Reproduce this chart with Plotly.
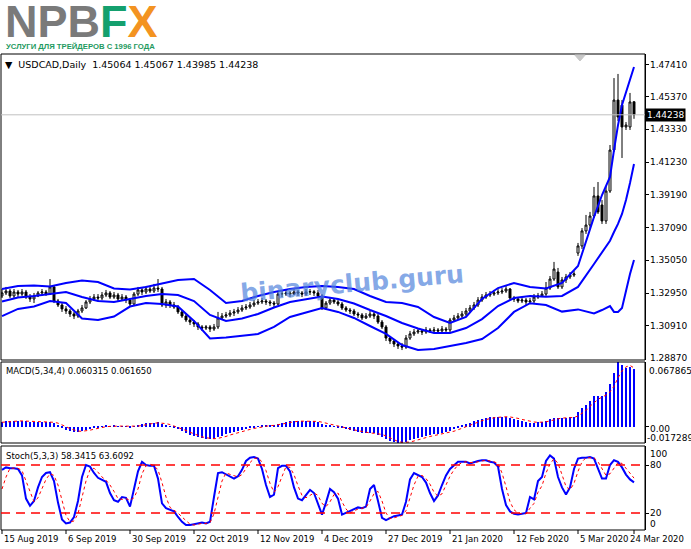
import plotly.graph_objects as go

# ---------------- data ----------------
bars = list(range(159))

opens = [1.3279,1.3298,1.3310,1.3279,1.3304,1.3291,1.3304,1.3272,1.3260,1.3279,
1.3298,1.3304,1.3291,1.3336,1.3247,1.3222,1.3197,1.3184,1.3165,1.3152,
1.3184,1.3203,1.3241,1.3260,1.3272,1.3266,1.3285,1.3298,1.3272,1.3285,
1.3260,1.3272,1.3253,1.3228,1.3291,1.3317,1.3304,1.3323,1.3310,1.3329,
1.3323,1.3222,1.3241,1.3222,1.3209,1.3178,1.3152,1.3127,1.3114,1.3102,
1.3083,1.3076,1.3083,1.3070,1.3083,1.3140,1.3152,1.3159,1.3171,1.3178,
1.3190,1.3203,1.3209,1.3222,1.3234,1.3241,1.3247,1.3241,1.3234,1.3228,
1.3291,1.3291,1.3298,1.3291,1.3304,1.3298,1.3291,1.3304,1.3306,1.3298,
1.3279,1.3203,1.3234,1.3253,1.3241,1.3228,1.3203,1.3190,1.3184,1.3165,
1.3159,1.3140,1.3152,1.3165,1.3152,1.3114,1.3083,1.3013,1.2994,1.2975,
1.2963,1.2956,1.3013,1.3039,1.3051,1.3058,1.3051,1.3064,1.3058,1.3064,
1.3058,1.3070,1.3064,1.3127,1.3140,1.3152,1.3165,1.3184,1.3203,1.3222,
1.3253,1.3272,1.3285,1.3291,1.3298,1.3304,1.3310,1.3323,1.3266,1.3260,
1.3247,1.3253,1.3241,1.3247,1.3272,1.3279,1.3291,1.3329,1.3386,1.3430,
1.3336,1.3380,1.3399,1.3411,1.3550,1.3595,1.3690,1.3727,1.3784,1.3911,
1.3854,1.3753,1.3942,1.4201,1.4517,1.4485,1.4347,1.4347,1.45064]

highs = [1.3323,1.3336,1.3323,1.3323,1.3317,1.3323,1.3317,1.3291,1.3298,1.3310,
1.3323,1.3317,1.3386,1.3348,1.3260,1.3234,1.3215,1.3197,1.3178,1.3197,
1.3222,1.3253,1.3279,1.3291,1.3291,1.3304,1.3317,1.3310,1.3304,1.3298,
1.3291,1.3285,1.3266,1.3304,1.3336,1.3329,1.3342,1.3336,1.3355,1.3386,
1.3336,1.3260,1.3253,1.3241,1.3222,1.3190,1.3165,1.3140,1.3127,1.3114,
1.3095,1.3095,1.3095,1.3102,1.3178,1.3171,1.3178,1.3190,1.3197,1.3209,
1.3222,1.3228,1.3241,1.3253,1.3260,1.3266,1.3260,1.3253,1.3247,1.3310,
1.3310,1.3317,1.3310,1.3323,1.3317,1.3310,1.3323,1.3323,1.3317,1.3317,
1.3291,1.3247,1.3266,1.3266,1.3253,1.3241,1.3215,1.3203,1.3197,1.3178,
1.3171,1.3171,1.3184,1.3178,1.3165,1.3127,1.3095,1.3026,1.3007,1.2988,
1.2982,1.3032,1.3058,1.3070,1.3076,1.3070,1.3083,1.3076,1.3083,1.3076,
1.3089,1.3083,1.3140,1.3159,1.3171,1.3184,1.3203,1.3222,1.3241,1.3272,
1.3291,1.3304,1.3310,1.3317,1.3323,1.3329,1.3342,1.3329,1.3279,1.3272,
1.3272,1.3266,1.3266,1.3291,1.3298,1.3310,1.3367,1.3405,1.3494,1.3456,
1.3399,1.3418,1.3430,1.3437,1.3614,1.3708,1.3791,1.3810,1.3968,1.3999,
1.3885,1.3974,1.4233,1.4656,1.4682,1.4517,1.4378,1.4562,1.45067]

lows = [1.3266,1.3285,1.3266,1.3266,1.3272,1.3279,1.3260,1.3241,1.3234,1.3272,
1.3279,1.3279,1.3285,1.3234,1.3209,1.3178,1.3165,1.3146,1.3133,1.3140,
1.3171,1.3197,1.3228,1.3247,1.3247,1.3253,1.3272,1.3260,1.3260,1.3247,
1.3247,1.3234,1.3209,1.3222,1.3279,1.3285,1.3291,1.3298,1.3298,1.3304,
1.3209,1.3203,1.3203,1.3197,1.3165,1.3140,1.3114,1.3095,1.3083,1.3064,
1.3058,1.3064,1.3051,1.3058,1.3070,1.3127,1.3140,1.3146,1.3152,1.3165,
1.3178,1.3190,1.3197,1.3209,1.3222,1.3228,1.3222,1.3215,1.3209,1.3222,
1.3272,1.3279,1.3272,1.3285,1.3279,1.3272,1.3279,1.3285,1.3279,1.3266,
1.3190,1.3190,1.3222,1.3228,1.3215,1.3190,1.3178,1.3165,1.3152,1.3140,
1.3127,1.3133,1.3140,1.3133,1.3102,1.3070,1.2994,1.2975,1.2956,1.2944,
1.2937,1.2944,1.3001,1.3026,1.3039,1.3032,1.3039,1.3045,1.3045,1.3039,
1.3045,1.3051,1.3051,1.3114,1.3127,1.3140,1.3152,1.3171,1.3190,1.3209,
1.3241,1.3260,1.3272,1.3279,1.3285,1.3291,1.3298,1.3253,1.3241,1.3234,
1.3234,1.3222,1.3228,1.3234,1.3260,1.3272,1.3279,1.3317,1.3374,1.3323,
1.3323,1.3361,1.3386,1.3399,1.3532,1.3576,1.3671,1.3702,1.3772,1.3797,
1.3734,1.3734,1.3930,1.4189,1.4385,1.4151,1.4328,1.4328,1.43985]

closes = [1.3298,1.3310,1.3279,1.3304,1.3291,1.3304,1.3272,1.3260,1.3279,1.3298,
1.3304,1.3291,1.3336,1.3247,1.3222,1.3197,1.3184,1.3165,1.3152,1.3184,
1.3203,1.3241,1.3260,1.3272,1.3266,1.3285,1.3298,1.3272,1.3285,1.3260,
1.3272,1.3253,1.3228,1.3291,1.3317,1.3304,1.3323,1.3310,1.3329,1.3323,
1.3222,1.3241,1.3222,1.3209,1.3178,1.3152,1.3127,1.3114,1.3102,1.3083,
1.3076,1.3083,1.3070,1.3083,1.3140,1.3152,1.3159,1.3171,1.3178,1.3190,
1.3203,1.3209,1.3222,1.3234,1.3241,1.3247,1.3241,1.3234,1.3228,1.3291,
1.3293,1.3298,1.3291,1.3304,1.3298,1.3291,1.3304,1.3306,1.3298,1.3279,
1.3203,1.3234,1.3253,1.3241,1.3228,1.3203,1.3190,1.3184,1.3165,1.3159,
1.3140,1.3152,1.3165,1.3152,1.3114,1.3083,1.3013,1.2994,1.2975,1.2963,
1.2956,1.3013,1.3039,1.3051,1.3058,1.3051,1.3064,1.3058,1.3064,1.3058,
1.3070,1.3064,1.3127,1.3140,1.3152,1.3165,1.3184,1.3203,1.3222,1.3253,
1.3272,1.3285,1.3291,1.3298,1.3304,1.3310,1.3323,1.3266,1.3260,1.3247,
1.3253,1.3241,1.3247,1.3272,1.3279,1.3291,1.3329,1.3386,1.3449,1.3336,
1.3380,1.3399,1.3411,1.3418,1.3595,1.3690,1.3727,1.3784,1.3911,1.3810,
1.3753,1.3942,1.4201,1.4517,1.4410,1.4347,1.4359,1.4505,1.44238]

# Bollinger bands read at sampled bars
band_bars = [0,4,8,12,16,20,24,28,32,36,40,44,48,52,56,60,64,68,72,76,80,84,88,92,96,100,
             104,108,112,116,120,124,128,132,136,140,144,148,150,152,153,154,155,156,157,158]
bb_upper = [1.3323,1.3342,1.3345,1.3339,1.3361,1.3377,1.3367,1.3326,1.3320,1.3336,1.3358,1.3380,
            1.3386,1.3317,1.3234,1.3247,1.3279,1.3304,1.3323,1.3336,1.3342,1.3336,1.3323,1.3279,
            1.3241,1.3234,1.3209,1.3146,1.3108,1.3146,1.3260,1.3329,1.3361,1.3336,1.3326,1.3361,
            1.3468,1.3778,1.3917,1.4031,1.4201,1.4359,1.4486,1.4568,1.4644,1.4726]
bb_mid = [1.3244,1.3269,1.3279,1.3291,1.3304,1.3272,1.3247,1.3241,1.3260,1.3279,1.3291,1.3285,
          1.3247,1.3159,1.3121,1.3137,1.3165,1.3206,1.3241,1.3260,1.3276,1.3260,1.3231,1.3190,
          1.3152,1.3108,1.3073,1.3045,1.3045,1.3076,1.3133,1.3215,1.3266,1.3279,1.3274,1.3279,
          1.3336,1.3481,1.3554,1.3628,1.3683,1.3734,1.3797,1.3885,1.3993,1.4113]
bb_lower = [1.3152,1.3197,1.3212,1.3247,1.3234,1.3137,1.3127,1.3149,1.3212,1.3234,1.3228,1.3212,
            1.3121,1.3010,1.3016,1.3026,1.3039,1.3083,1.3146,1.3174,1.3203,1.3178,1.3140,1.3089,
            1.3039,1.2969,1.2937,1.2944,1.2963,1.2982,1.3007,1.3076,1.3178,1.3233,1.3222,1.3180,
            1.3194,1.3168,1.3190,1.3215,1.3178,1.3178,1.3203,1.3317,1.3418,1.3506]

macd_hist = [0.0050,0.0055,0.0058,0.0060,0.0060,0.0058,0.0055,0.0050,0.0045,0.0043,
0.0045,0.0048,0.0052,0.0035,0.0010,-0.0015,-0.0035,-0.0048,-0.0055,-0.0052,
-0.0045,-0.0032,-0.0022,-0.0012,-0.0005,0.0002,0.0006,0.0005,0.0006,0.0004,
0.0004,0.0003,-0.0005,0.0005,0.0018,0.0025,0.0033,0.0038,0.0042,0.0043,
0.0025,0.0012,0.0002,-0.0012,-0.0030,-0.0050,-0.0070,-0.0088,-0.0102,-0.0115,
-0.0125,-0.0128,-0.0130,-0.0127,-0.0110,-0.0095,-0.0082,-0.0070,-0.0058,-0.0045,
-0.0035,-0.0025,-0.0015,-0.0005,0.0003,0.0010,0.0012,0.0013,0.0012,0.0030,
0.0042,0.0050,0.0055,0.0058,0.0058,0.0057,0.0056,0.0055,0.0054,0.0050,
0.0025,0.0012,0.0008,0.0002,-0.0006,-0.0018,-0.0030,-0.0040,-0.0050,-0.0058,
-0.0068,-0.0072,-0.0070,-0.0072,-0.0085,-0.0105,-0.0135,-0.0155,-0.0165,-0.0172,
-0.01728,-0.0160,-0.0145,-0.0130,-0.0118,-0.0108,-0.0098,-0.0090,-0.0082,-0.0076,
-0.0068,-0.0060,-0.0042,-0.0025,-0.0008,0.0008,0.0025,0.0040,0.0055,0.0070,
0.0082,0.0090,0.0096,0.0100,0.0102,0.0104,0.0105,0.0092,0.0080,0.0068,
0.0058,0.0048,0.0042,0.0042,0.0045,0.0052,0.0062,0.0078,0.0095,0.0090,
0.0092,0.0095,0.0098,0.0100,0.0150,0.0200,0.0230,0.0270,0.0320,0.0325,
0.0320,0.0360,0.0450,0.0560,0.06786,0.0650,0.0618,0.0625,0.060315]

macd_signal = [0.0045,0.0050,0.0054,0.0056,0.0058,0.0059,0.0058,0.0056,0.0052,0.0048,
0.0046,0.0045,0.0047,0.0045,0.0036,0.0020,-0.0001,-0.0022,-0.0038,-0.0048,
-0.0050,-0.0046,-0.0038,-0.0028,-0.0018,-0.0009,-0.0002,0.0002,0.0005,0.0005,
0.0005,0.0004,0.0002,0.0002,0.0005,0.0011,0.0020,0.0029,0.0035,0.0039,
0.0037,0.0031,0.0021,0.0007,-0.0007,-0.0023,-0.0041,-0.0060,-0.0078,-0.0094,
-0.0108,-0.0118,-0.0125,-0.0128,-0.0124,-0.0116,-0.0104,-0.0089,-0.0076,-0.0064,
-0.0052,-0.0041,-0.0030,-0.0020,-0.0011,-0.0002,0.0005,0.0010,0.0012,0.0017,
0.0024,0.0034,0.0044,0.0051,0.0055,0.0057,0.0057,0.0057,0.0056,0.0054,
0.0046,0.0035,0.0024,0.0012,0.0004,-0.0004,-0.0013,-0.0024,-0.0035,-0.0045,
-0.0054,-0.0062,-0.0067,-0.0071,-0.0075,-0.0083,-0.0099,-0.0120,-0.0140,-0.0157,
-0.0166,-0.0168,-0.0163,-0.0152,-0.0138,-0.0125,-0.0114,-0.0104,-0.0095,-0.0087,
-0.0079,-0.0072,-0.0062,-0.0049,-0.0034,-0.0017,0.0000,0.0016,0.0032,0.0048,
0.0062,0.0074,0.0085,0.0092,0.0097,0.0101,0.0103,0.0101,0.0095,0.0086,
0.0075,0.0064,0.0054,0.0048,0.0044,0.0045,0.0050,0.0059,0.0072,0.0081,
0.0089,0.0093,0.0094,0.0096,0.0111,0.0137,0.0170,0.0213,0.0255,0.0286,
0.0309,0.0331,0.0364,0.0423,0.0512,0.0585,0.0627,0.0643,0.06165]

stoch_k = [74,77,76,76,75,67,38,29,35,52,
65,70,71,60,33,12,7,8,15,35,
65,80,78,70,64,61,59,45,36,34,
40,39,28,50,72,84,80,79,79,63,
32,26,24,22,15,9,5,5,6,7,
8,7,9,40,70,71,68,66,63,66,
74,85,89,90,88,75,55,40,43,76,
79,79,72,52,38,36,42,49,45,32,
18,33,50,46,38,18,20,23,25,27,
26,28,50,55,35,14,11,14,16,17,
18,34,62,70,67,65,58,45,35,42,
55,67,75,80,84,84,84,82,84,85,
86,86,84,83,78,50,30,22,19,18,
19,20,40,37,60,65,85,92,88,65,
52,43,52,75,88,89,89,90,88,75,
63,63,80,86,84,77,68,62,58.34]

stoch_d = [50,65,76,76,76,73,60,45,34,39,
51,62,69,67,55,35,17,9,10,19,
38,60,74,76,71,65,61,55,47,38,
37,38,36,39,50,69,79,81,79,74,
58,40,27,24,20,15,10,6,5,6,
7,7,8,19,40,60,70,68,66,65,
68,75,83,88,89,84,73,57,46,53,
66,78,77,68,54,42,39,42,45,42,
32,28,34,43,45,34,25,20,23,25,
26,27,35,44,47,35,20,13,14,16,
17,23,38,55,66,67,63,56,46,41,
44,55,66,74,80,83,84,83,83,84,
85,86,85,84,82,70,53,34,24,20,
19,19,26,32,46,54,70,81,88,82,
68,53,49,57,72,84,89,89,89,84,
75,67,69,76,83,82,76,69,63.61]

date_bars = [0,16,32,48,64,80,96,112,128,144,158]
date_labels = ["15 Aug 2019","6 Sep 2019","30 Sep 2019","22 Oct 2019","12 Nov 2019","4 Dec 2019",
               "27 Dec 2019","21 Jan 2020","12 Feb 2020","5 Mar 2020","24 Mar 2020"]
price_ticks = [1.28870,1.30910,1.32950,1.35050,1.37090,1.39190,1.41230,1.43330,1.45370,1.47410]
last_price = 1.44238
macd_max, macd_min = 0.067865, -0.017289
stoch_levels = [80, 20]
stoch_scale = [100, 80, 20, 0]

# ---------------- figure ----------------
FONT = "DejaVu Sans"
H = 549
T, B = 54, 19
PH = H - T - B  # plot height in px


def py(ypix):
    """convert a pixel row (from top) into paper y"""
    return (H - B - ypix) / PH


def px(xpix):
    """convert a pixel column into paper x"""
    return (xpix - 1) / 644


fig = go.Figure()

fig.add_trace(go.Candlestick(
    x=bars, open=opens, high=highs, low=lows, close=closes,
    increasing=dict(line=dict(color="black", width=1), fillcolor="white"),
    decreasing=dict(line=dict(color="black", width=1), fillcolor="black"),
    whiskerwidth=0, xaxis="x", yaxis="y", hoverinfo="skip"))

for band in (bb_upper, bb_mid, bb_lower):
    fig.add_trace(go.Scatter(x=band_bars, y=band, mode="lines",
                             line=dict(color="#0000ff", width=2), xaxis="x", yaxis="y",
                             hoverinfo="skip"))

fig.add_trace(go.Bar(x=bars, y=macd_hist, marker=dict(color="#0000ff", line=dict(width=0)),
                     width=0.7, xaxis="x2", yaxis="y2", hoverinfo="skip"))
fig.add_trace(go.Scatter(x=bars, y=macd_signal, mode="lines",
                         line=dict(color="#ff0000", width=1, dash="dot"),
                         xaxis="x2", yaxis="y2", hoverinfo="skip"))

fig.add_trace(go.Scatter(x=bars, y=stoch_k, mode="lines",
                         line=dict(color="#0000ff", width=2), xaxis="x3", yaxis="y3",
                         hoverinfo="skip"))
fig.add_trace(go.Scatter(x=bars, y=stoch_d, mode="lines",
                         line=dict(color="#ff0000", width=1, dash="dot"),
                         xaxis="x3", yaxis="y3", hoverinfo="skip"))

xr = [-0.25, 160.75]
xcommon = dict(range=xr, showticklabels=False, showgrid=False, zeroline=False,
               showline=False, fixedrange=True)

main_dom = [py(360), 1.0]
macd_dom = [py(443), py(362)]
stoch_dom = [0.0, py(446)]
yline = dict(showgrid=False, zeroline=False, showline=True, linecolor="black", linewidth=1,
             fixedrange=True, side="right", showticklabels=False, ticks="outside",
             ticklen=3, tickcolor="black")

fig.update_layout(
    width=691, height=H,
    margin=dict(l=1, r=46, t=T, b=B),
    paper_bgcolor="white", plot_bgcolor="white",
    showlegend=False,
    font=dict(family=FONT, size=10, color="black"),
    xaxis=dict(domain=[0, 1], anchor="y", rangeslider=dict(visible=False), **xcommon),
    xaxis2=dict(domain=[0, 1], anchor="y2", matches="x", **xcommon),
    xaxis3=dict(domain=[0, 1], anchor="y3", matches="x", **xcommon),
    yaxis=dict(domain=main_dom, range=[1.28742, 1.48081], tickvals=price_ticks[1:], **yline),
    yaxis2=dict(domain=macd_dom, range=[macd_min, macd_max], tickvals=[0.0], **yline),
    yaxis3=dict(domain=stoch_dom, range=[-1.25, 103.75], tickvals=stoch_levels, **yline),
    bargap=0,
)

shapes = []
for dom in (main_dom, macd_dom, stoch_dom):
    shapes.append(dict(type="rect", xref="paper", yref="paper", x0=0, x1=1,
                       y0=dom[0], y1=dom[1], line=dict(color="black", width=1)))
shapes.append(dict(type="line", xref="paper", yref="y", x0=0, x1=1,
                   y0=last_price, y1=last_price, line=dict(color="#c0c0c0", width=1)))
for lv in stoch_levels:
    shapes.append(dict(type="line", xref="paper", yref="y3", x0=0, x1=1, y0=lv, y1=lv,
                       line=dict(color="#ff0000", width=1.5, dash="9px,6px")))
for b in date_bars:
    shapes.append(dict(type="line", xref="x3", yref="paper", x0=b, x1=b,
                       y0=0, y1=py(534), line=dict(color="black", width=1)))
shapes.append(dict(type="path", xref="x", yref="paper",
                   path=f"M 143.2,{py(55)} L 145.8,{py(55)} L 144.5,{py(61)} Z",
                   fillcolor="#c8c8c8", line=dict(color="#c8c8c8", width=1)))
fig.update_layout(shapes=shapes)

ann = []
ann.append(dict(xref="paper", yref="paper", x=px(3), y=py(21),
                xanchor="left", yanchor="middle", showarrow=False,
                text="<b><span style='color:#7a7a7a'>NPB</span><span style='color:#14a06e'>F</span>"
                     "<span style='color:#f39321'>X</span></b>",
                font=dict(family="Liberation Sans", size=45)))
ann.append(dict(xref="paper", yref="paper", x=px(4), y=py(46.5),
                xanchor="left", yanchor="middle", showarrow=False,
                text="<b>УСЛУГИ ДЛЯ ТРЕЙДЕРОВ С 1996 ГОДА</b>",
                font=dict(family="Liberation Sans", size=7.7, color="#1f9a5f")))
ann.append(dict(xref="paper", yref="paper", x=px(3), y=py(64),
                xanchor="left", yanchor="middle", showarrow=False,
                text="▼  USDCAD,Daily  1.45064 1.45067 1.43985 1.44238",
                font=dict(family=FONT, size=9.5, color="black")))
ann.append(dict(xref="paper", yref="paper", x=px(4), y=py(371),
                xanchor="left", yanchor="middle", showarrow=False,
                text="MACD(5,34,4) 0.060315 0.061650",
                font=dict(family=FONT, size=8.5, color="black")))
ann.append(dict(xref="paper", yref="paper", x=px(4), y=py(455.5),
                xanchor="left", yanchor="middle", showarrow=False,
                text="Stoch(5,3,3) 58.3415 63.6092",
                font=dict(family=FONT, size=8.5, color="black")))
ann.append(dict(xref="paper", yref="paper", x=px(352), y=py(283),
                xanchor="center", yanchor="middle", showarrow=False, textangle=-5,
                text="<b>binaryclub.guru</b>",
                font=dict(family="DejaVu Sans", size=25, color="rgba(80,130,220,0.70)")))

RF = dict(family=FONT, size=9, color="black")
for v in price_ticks[1:]:
    ann.append(dict(xref="paper", yref="y", x=1, y=v, xanchor="left", yanchor="middle",
                    xshift=3, showarrow=False, text=f"{v:.5f}", font=RF))
ann.append(dict(xref="paper", yref="paper", x=1, y=py(357.5), xanchor="left", yanchor="middle",
                xshift=3, showarrow=False, text=f"{price_ticks[0]:.5f}", font=RF))
ann.append(dict(xref="paper", yref="paper", x=1, y=py(370.5), xanchor="left", yanchor="middle",
                xshift=2, showarrow=False, text=f"{macd_max:.6f}", font=RF))
ann.append(dict(xref="paper", yref="paper", x=1, y=py(428.5), xanchor="left", yanchor="middle",
                xshift=3, showarrow=False, text="0.00", font=RF))
ann.append(dict(xref="paper", yref="paper", x=1, y=py(438), xanchor="left", yanchor="middle",
                xshift=0, showarrow=False, text=f"{macd_min:.6f}", font=RF))
for txt, yp in zip([str(v) for v in stoch_scale], [453.5, 464.5, 513.3, 524]):
    ann.append(dict(xref="paper", yref="paper", x=1, y=py(yp), xanchor="left",
                    yanchor="middle", xshift=3, showarrow=False, text=txt, font=RF))
ann.append(dict(xref="paper", yref="y", x=1, y=last_price, xanchor="left", yanchor="middle",
                xshift=0, showarrow=False, text=f"{last_price:.5f}", bgcolor="black",
                borderpad=1, font=dict(family=FONT, size=9, color="white")))
for b, lab in zip(date_bars, date_labels):
    ann.append(dict(xref="x3", yref="paper", x=b, y=py(538.5), xanchor="left",
                    yanchor="middle", xshift=(0 if b < 150 else -6), showarrow=False,
                    text=lab, font=dict(family=FONT, size=8.5, color="black")))
fig.update_layout(annotations=ann)

fig.write_html("out.html", config={"displayModeBar": False},
               post_script="document.body.style.margin='0';document.body.style.padding='0';")
